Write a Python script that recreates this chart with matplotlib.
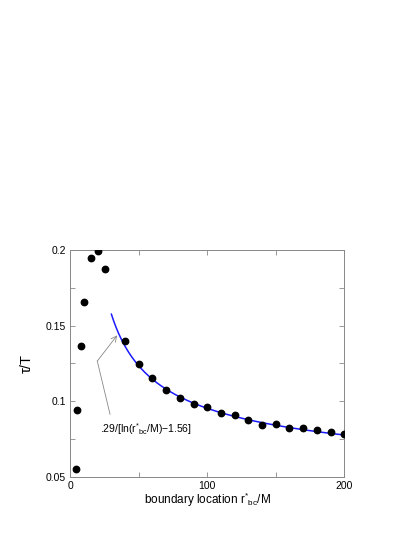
import numpy as np
import matplotlib
matplotlib.use("Agg")
import matplotlib.pyplot as plt
from matplotlib.ticker import MultipleLocator

plt.rcParams["font.family"] = ["Liberation Sans", "DejaVu Sans"]
plt.rcParams["mathtext.fontset"] = "custom"
plt.rcParams["mathtext.rm"] = "Liberation Sans"
plt.rcParams["mathtext.it"] = "Liberation Sans:italic"

# data points
r_bc = [4, 5, 8, 10, 15, 20, 25, 40, 50, 60, 70, 80, 90, 100, 110, 120,
        130, 140, 150, 160, 170, 180, 190, 200]
tau_T = [0.0549, 0.0939, 0.1364, 0.1655, 0.1948, 0.1995, 0.1876, 0.1397,
         0.1245, 0.1155, 0.1073, 0.1018, 0.0983, 0.0959, 0.0923, 0.0906,
         0.0875, 0.0842, 0.0849, 0.0820, 0.0824, 0.0807, 0.0796, 0.0784]

# fit curve .29/[ln(r/M)-1.56]
fit_a = 0.29
fit_b = 1.56
fit_range = (30, 200)

fig = plt.figure(figsize=(4.15, 5.37), dpi=100)
ax = fig.add_axes([0.1694, 0.1123, 0.6602, 0.4222])

rf = np.linspace(fit_range[0], fit_range[1], 300)
ax.plot(rf, fit_a / (np.log(rf) - fit_b), color="#1a1aff", lw=1.1, zorder=2)
ax.plot(r_bc, tau_T, "o", color="black", ms=4.6, zorder=3)

ax.set_xlim(0, 200)
ax.set_ylim(0.05, 0.2)
ax.xaxis.set_major_locator(MultipleLocator(100))
ax.xaxis.set_minor_locator(MultipleLocator(50))
ax.yaxis.set_minor_locator(MultipleLocator(0.025))
ax.set_yticks([0.05, 0.1, 0.15, 0.2])
ax.set_yticklabels(["0.05", "0.1", "0.15", "0.2"])
ax.tick_params(which="both", direction="in", top=True, right=True,
               color="#888888", labelsize=7.5, width=0.6, pad=3)
ax.tick_params(which="major", length=3.5)
ax.tick_params(which="minor", length=3.5)
for s in ax.spines.values():
    s.set_color("#888888")
    s.set_linewidth(0.7)

ax.set_xlabel(r"boundary location r$^{*}$$_{\rm bc}$/M", fontsize=8.5, labelpad=0)
ax.set_ylabel("\u03c4/T", fontsize=10.5, labelpad=9)

# annotation
ax.annotate("", xy=(34.2, 0.1435), xytext=(19.7, 0.1265),
            arrowprops=dict(arrowstyle="->", color="#888888", lw=0.6,
                            shrinkA=0, shrinkB=0))
ax.plot([19.7, 29.0], [0.1265, 0.0913], color="#888888", lw=0.6)
ax.text(22, 0.0812, r".29/[ln(r$^{*}$$_{\rm bc}$/M)$-$1.56]", fontsize=7.5,
        va="center", ha="left")

fig.savefig("out.png", dpi=100)
